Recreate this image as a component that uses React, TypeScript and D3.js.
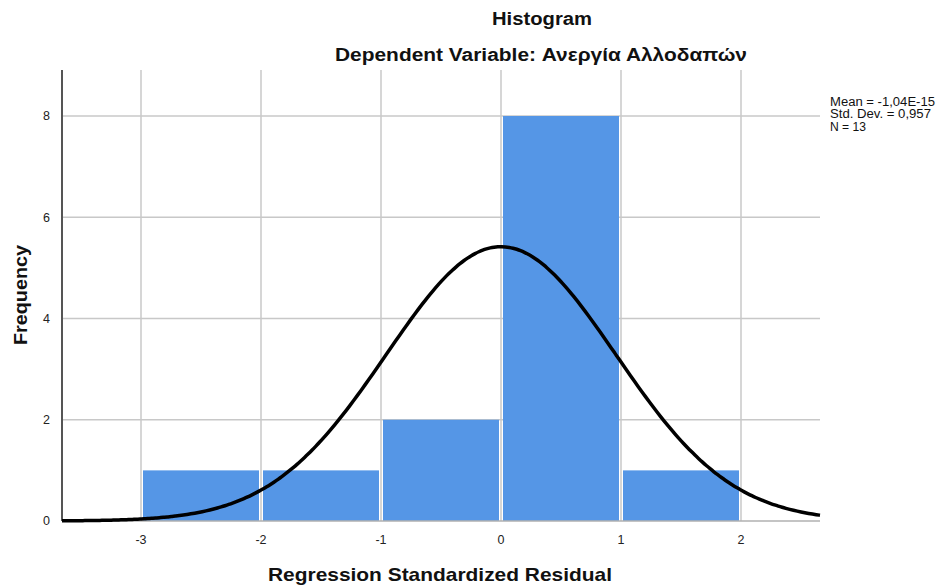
import React from "react";
import * as d3 from "d3";

const binStarts = [-3, -2, -1, 0, 1];
const binEnds = [-2, -1, 0, 1, 2];
const frequencies = [1, 1, 2, 8, 1];
const xTicks = [-3, -2, -1, 0, 1, 2];
const yTicks = [0, 2, 4, 6, 8];
const statMean = -1.04e-15;
const statSd = 0.957;
const statN = 13;
const legendLines = ["Mean = -1,04E-15", "Std. Dev. = 0,957", "N = 13"];
const legendWidths = [105, 101, 36];

const W = 942, H = 586;
const L = 62, R = 820, T = 70, B = 521;

export default function App() {
  const x = d3.scaleLinear().domain([-3, 2]).range([141, 741]);
  const xDom: [number, number] = [x.invert(L), x.invert(R)];
  const y = d3.scaleLinear().domain([0, 8]).range([B, 116]);
  const binW = 1;
  const dens = (v: number) =>
    (statN * binW) / (statSd * Math.sqrt(2 * Math.PI)) *
    Math.exp(-0.5 * ((v - statMean) / statSd) ** 2);
  const samples = d3.range(0, 201).map((i) => xDom[0] + (i / 200) * (xDom[1] - xDom[0]));
  const line = d3.line<number>().x((v) => x(v)).y((v) => y(dens(v))).curve(d3.curveBasis);
  const font = "'Liberation Sans', Arial, sans-serif";
  return (
    <svg width={W} height={H} style={{ position: "absolute", left: 0, top: 0, background: "#fff" }} fontFamily={font}>
      <rect x={0} y={0} width={W} height={H} fill="#fff" />
      {xTicks.map((t) => (
        <line key={"gx" + t} x1={x(t)} x2={x(t)} y1={T} y2={B} stroke="#c8c8c8" strokeWidth={1.5} />
      ))}
      {yTicks.filter((t) => t > 0).map((t) => (
        <line key={"gy" + t} x1={L} x2={R} y1={y(t)} y2={y(t)} stroke="#c8c8c8" strokeWidth={1.5} />
      ))}
      {frequencies.map((f, i) => (
        <rect key={"b" + i} x={x(binStarts[i]) + 2} width={x(binEnds[i]) - x(binStarts[i]) - 4}
          y={y(f)} height={B - y(f)} fill="#5596e6" />
      ))}
      <line x1={L} x2={R} y1={B} y2={B} stroke="#b0b0b0" strokeWidth={1.5} />
      <line x1={L} x2={L} y1={T} y2={B} stroke="#555" strokeWidth={2} />
      <path d={line(samples) || ""} fill="none" stroke="#000" strokeWidth={3.5} />
      {yTicks.map((t) => (
        <text key={"ty" + t} x={50} y={y(t)} dy="0.35em" textAnchor="end" fontSize={12.5} fill="#222">{t}</text>
      ))}
      {xTicks.map((t) => (
        <text key={"tx" + t} x={x(t)} y={540} dy="0.35em" textAnchor="middle" fontSize={12.5} fill="#222">{t}</text>
      ))}
      <text x={542} y={25} textAnchor="middle" fontSize={18} fontWeight="bold" fill="#111"
        textLength={100} lengthAdjust="spacingAndGlyphs">Histogram</text>
      <text x={541} y={61} textAnchor="middle" fontSize={18} fontWeight="bold" fill="#111"
        textLength={412} lengthAdjust="spacingAndGlyphs">Dependent Variable: Ανεργία Αλλοδαπών</text>
      <text x={440} y={581} textAnchor="middle" fontSize={19} fontWeight="bold" fill="#111"
        textLength={344} lengthAdjust="spacingAndGlyphs">Regression Standardized Residual</text>
      <text transform={`translate(27,295) rotate(-90)`} textAnchor="middle" fontSize={19} fontWeight="bold" fill="#111"
        textLength={100} lengthAdjust="spacingAndGlyphs">Frequency</text>
      {legendLines.map((s, i) => (
        <text key={"lg" + i} x={830} y={106 + i * 12.3} fontSize={12} fill="#111"
          textLength={legendWidths[i]} lengthAdjust="spacingAndGlyphs">{s}</text>
      ))}
    </svg>
  );
}
